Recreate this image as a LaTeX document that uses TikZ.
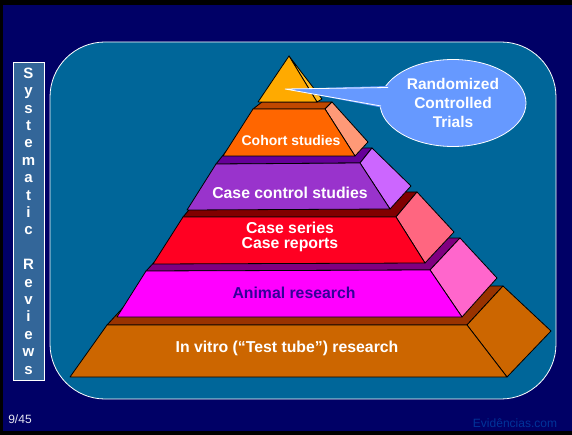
\documentclass[tikz,border=0pt]{standalone}
\usepackage{fontspec}
\setmainfont{Liberation Sans}
\usetikzlibrary{shapes.geometric}

\definecolor{navy}{HTML}{000066}
\definecolor{panel}{HTML}{006699}
\definecolor{sidebox}{HTML}{336699}
\definecolor{bubble}{HTML}{6699FF}
\definecolor{apexF}{HTML}{FFAA00}
\definecolor{apexS}{HTML}{FFBE22}
\definecolor{cohortF}{HTML}{FF6600}
\definecolor{cohortT}{HTML}{C04800}
\definecolor{cohortS}{HTML}{FF9977}
\definecolor{ccF}{HTML}{9933CC}
\definecolor{ccT}{HTML}{660099}
\definecolor{ccS}{HTML}{CC66FF}
\definecolor{csF}{HTML}{FF0022}
\definecolor{csT}{HTML}{800000}
\definecolor{csS}{HTML}{FF6680}
\definecolor{anF}{HTML}{FF00FF}
\definecolor{anT}{HTML}{800080}
\definecolor{anS}{HTML}{FF66CC}
\definecolor{ivF}{HTML}{CC6600}
\definecolor{ivT}{HTML}{993300}
\definecolor{anText}{HTML}{330099}
\definecolor{evid}{HTML}{003399}

\tikzset{
  face/.style={draw=black,line width=0.8pt,line join=round},
  layertext/.style={text=white,font=\bfseries\fontsize{15.8}{16}\selectfont,align=center}
}

\begin{document}
\begin{tikzpicture}[x=1pt,y=-1pt]
\useasboundingbox (0,0) rectangle (572,435);
\fill[black] (0,0) rectangle (572,435);
\fill[navy] (3,5) rectangle (572,431);
\draw[white,fill=panel,line width=0.8pt,rounded corners=55] (50,42) rectangle (556,399);

\node (SR) at (28.5,221) [draw=white,fill=sidebox,line width=0.8pt,minimum width=31,minimum height=318,inner sep=0,text=white,align=center,font=\bfseries\fontsize{15}{17.4}\selectfont] {S\\y\\s\\t\\e\\m\\a\\t\\i\\c\\\mbox{}\\R\\e\\v\\i\\e\\w\\s};

% in vitro
\filldraw[face,fill=ivT] (107,325) -- (467,325) -- (503,286) -- (143,286) -- cycle;
\filldraw[face,fill=ivF] (467,325) -- (503,286) -- (551,331) -- (507,377) -- cycle;
\filldraw[face,fill=ivF] (107,325) -- (467,325) -- (507,377) -- (70,377) -- cycle;
% animal
\filldraw[face,fill=anT] (146,271) -- (430,270) -- (460,238) -- (176,239) -- cycle;
\filldraw[face,fill=anS] (430,270) -- (460,238) -- (497,278) -- (462,317) -- cycle;
\filldraw[face,fill=anF] (146,271) -- (430,270) -- (462,317) -- (117,317) -- cycle;
% case series
\filldraw[face,fill=csT] (183,217) -- (396,217) -- (417,192) -- (204,192) -- cycle;
\filldraw[face,fill=csS] (396,217) -- (417,192) -- (454,232) -- (425,263) -- cycle;
\filldraw[face,fill=csF] (183,217) -- (396,217) -- (425,263) -- (153,264) -- cycle;
% case control
\filldraw[face,fill=ccT] (216,164) -- (360,163) -- (372,148) -- (228,149) -- cycle;
\filldraw[face,fill=ccS] (360,163) -- (372,148) -- (411,186) -- (390,209) -- cycle;
\filldraw[face,fill=ccF] (216,164) -- (360,163) -- (390,209) -- (187,210) -- cycle;
% cohort
\filldraw[face,fill=cohortT] (253,109) -- (325,109) -- (332,102) -- (262,102) -- cycle;
\filldraw[face,fill=cohortS] (325,109) -- (332,102) -- (368,142) -- (355,156) -- cycle;
\filldraw[face,fill=cohortF] (253,109) -- (325,109) -- (355,156) -- (223,156) -- cycle;
% apex
\filldraw[face,fill=apexS] (289,56) -- (322,99) -- (317,102) -- cycle;
\filldraw[face,fill=apexF] (289,56) -- (317,102) -- (258,102) -- cycle;

\node (cohort) at (291,140) [layertext,font=\bfseries\fontsize{14}{15}\selectfont] {Cohort studies};
\node (casecontrol) at (290,193) [layertext] {Case control studies};
\node (caseseries) at (290,237) [layertext,font=\bfseries\fontsize{15.8}{15}\selectfont] {Case series\\Case reports};
\node (animal) at (294,293) [layertext,text=anText] {Animal research};
\node (invitro) at (287,348) [layertext] {In vitro (“Test tube”) research};

% callout
\node (RCT) at (453,103) [ellipse,draw=white,fill=bubble,line width=0.8pt,minimum width=146,minimum height=87,inner sep=0,layertext,font=\bfseries\fontsize{15.5}{19}\selectfont] {Randomized\\Controlled\\Trials};
\coordinate (tip) at (285,89);
\fill[bubble] (tip) -- (388,86) -- (384,108) -- cycle;
\draw[white,line width=0.8pt] (388,87.5) -- (tip) -- (381,106);

\node (page) at (20,419) [text=white!90!navy,font=\fontsize{12}{13}\selectfont] {9/45};
\node (brand) at (515,423) [text=evid,font=\fontsize{12}{13}\selectfont] {Evidências.com};
\end{tikzpicture}
\end{document}
